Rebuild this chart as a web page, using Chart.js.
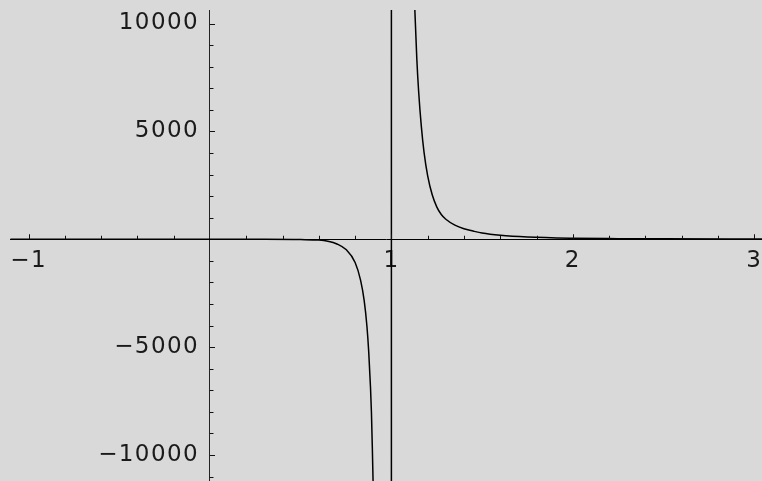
<!DOCTYPE html>
<html>
<head>
<meta charset="utf-8">
<script src="https://cdn.jsdelivr.net/npm/chart.js@4/dist/chart.umd.min.js"></script>
<style>
  html, body { margin: 0; padding: 0; background: #d9d9d9; }
  canvas { display: block; }
</style>
</head>
<body>
<canvas id="plot" width="762" height="481"></canvas>
<script>
// Sampled curve: flat near zero, a pole at x = 1 (joined by a vertical stroke),
// then a decaying positive branch.
const curveX = [
  -1.1, -0.5, 0, 0.3, 0.5, 0.6, 0.65, 0.7, 0.75, 0.8, 0.83, 0.85, 0.865,
  0.875, 0.885, 0.89, 0.895, 0.9, 0.905, 0.91, 1, 1,
  1.11, 1.12, 1.13, 1.14, 1.15, 1.165, 1.18, 1.2, 1.225, 1.25, 1.275, 1.3,
  1.35, 1.4, 1.45, 1.5, 1.6, 1.75, 2, 2.25, 2.5, 3.05
];
const curveY = [
  0, 0, 0, -2, -15, -39, -93, -218, -480, -1075, -1893, -2844, -4024,
  -5222, -6904, -8039, -9700, -11600, -12950, -15360, -1000000, 1000000,
  17280, 13310, 10470, 8380, 6870, 5230, 4030, 2940, 2060, 1502, 1144, 926,
  653, 484, 379, 288, 185, 104, 48, 28, 18, 8
];

// Labelled ticks
const xTicks = [-1, 0, 1, 2, 3];
const xTickLabels = ['\u22121', '', '1', '2', '3'];
const yTicks = [-10000, -5000, 0, 5000, 10000];
const yTickLabels = ['\u221210000', '\u22125000', '', '5000', '10000'];

// Gap between the vertical axis and its labels
const Y_LABEL_GAP = 11;

// Small tick marks drawn along both axes (major every 1 / 5000, minor every 0.2 / 1000)
const tickMarks = {
  id: 'tickMarks',
  beforeDraw(chart) {
    chart.ctx.letterSpacing = '1.4px';
    // push the vertical-axis labels left of the axis line
    chart.scales.y.getLabelItems().forEach(item => {
      const t = item.options.translation;
      item.options.translation = [t[0] - Y_LABEL_GAP, t[1]];
    });
  },
  afterDatasetsDraw(chart) {
    const { ctx, scales: { x, y } } = chart;
    const x0 = x.getPixelForValue(0);
    const y0 = y.getPixelForValue(0);
    ctx.save();
    ctx.strokeStyle = '#111';
    ctx.lineWidth = 1;
    ctx.beginPath();
    for (let i = -5; i <= 15; i++) {
      if (i === 0) continue;
      const px = Math.round(x.getPixelForValue(i / 5)) + 0.5;
      const len = i % 5 === 0 ? 5 : 3.5;
      ctx.moveTo(px, y0);
      ctx.lineTo(px, y0 - len);
    }
    for (let j = -11; j <= 10; j++) {
      if (j === 0) continue;
      const py = Math.round(y.getPixelForValue(j * 1000)) + 0.5;
      const len = j % 5 === 0 ? 5 : 3.5;
      ctx.moveTo(x0, py);
      ctx.lineTo(x0 + len, py);
    }
    ctx.stroke();
    ctx.restore();
  }
};

const tickFont = { family: "'DejaVu Sans', sans-serif", size: 23 };

new Chart(document.getElementById('plot'), {
  type: 'scatter',
  data: {
    datasets: [{
      data: curveX.map((v, i) => ({ x: v, y: curveY[i] })),
      showLine: true,
      borderColor: '#000',
      borderWidth: 1.5,
      pointRadius: 0,
      cubicInterpolationMode: 'monotone',
      clip: 0
    }]
  },
  options: {
    responsive: false,
    animation: false,
    layout: { padding: { left: 10, top: 10, right: 0, bottom: 0 } },
    plugins: { legend: { display: false }, tooltip: { enabled: false } },
    scales: {
      x: {
        type: 'linear',
        min: -1.1025,
        max: 3.043,
        position: { y: 0 },
        grid: { display: false, drawTicks: false },
        border: { display: true, color: '#000', width: 1 },
        afterBuildTicks(s) { s.ticks = xTicks.map(v => ({ value: v })); },
        afterFit(s) { s.height = 0; s.paddingLeft = 0; s.paddingRight = 0; },
        ticks: {
          autoSkip: false,
          maxRotation: 0,
          padding: 8,
          color: '#1a1a1a',
          font: tickFont,
          callback: v => xTickLabels[xTicks.indexOf(v)] ?? ''
        }
      },
      y: {
        type: 'linear',
        min: -11206,
        max: 10626,
        position: { x: 0 },
        grid: { display: false, drawTicks: false },
        border: { display: true, color: '#222', width: 1 },
        afterBuildTicks(s) { s.ticks = yTicks.map(v => ({ value: v })); },
        afterFit(s) { s.width = 0; s.paddingTop = 0; s.paddingBottom = 0; },
        ticks: {
          autoSkip: false,
          padding: 0,
          color: '#1a1a1a',
          font: tickFont,
          callback: v => yTickLabels[yTicks.indexOf(v)] ?? ''
        }
      }
    }
  },
  plugins: [tickMarks]
});
</script>
</body>
</html>
